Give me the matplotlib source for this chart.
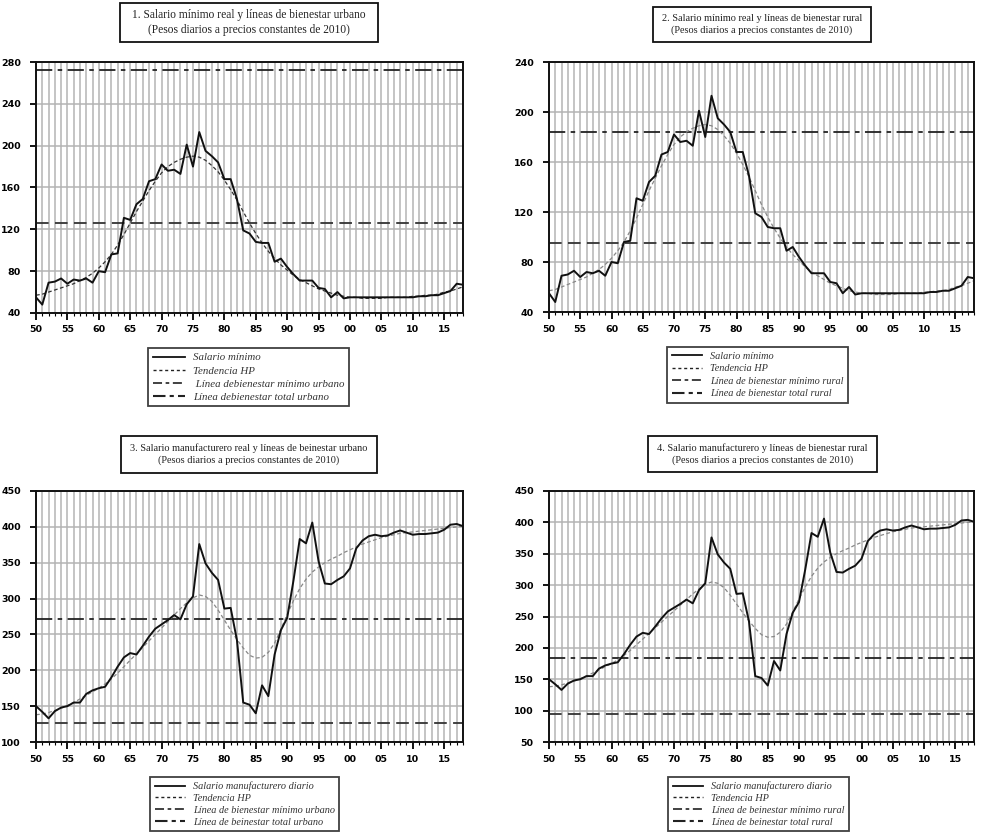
import matplotlib
matplotlib.use("Agg")
import matplotlib.pyplot as plt
from matplotlib.lines import Line2D
from matplotlib.patches import Rectangle
from matplotlib.ticker import MultipleLocator, FixedLocator

# ---------------- data ----------------
years = list(range(1950, 2019))

salario_minimo = [55, 48, 69, 70, 73, 68, 72, 71, 73, 69,
                  80, 79, 96, 97, 131, 129, 144, 149, 166, 168,
                  182, 176, 177, 173, 201, 180, 213, 195, 190, 184,
                  168, 168, 149, 119, 116, 108, 107, 107, 89, 92,
                  84, 77, 71, 71, 71, 64, 63, 55, 60, 54,
                  55, 55, 55, 55, 55, 55, 55, 55, 55, 55,
                  55, 56, 56, 57, 57, 59, 61, 68, 67]

tendencia_minimo = [57, 58, 60, 62, 64, 66, 68, 71, 74, 78,
                    83, 89, 96, 105, 115, 126, 137, 147, 157, 166,
                    174, 180, 184, 187, 189, 190, 189, 186, 181, 175,
                    167, 158, 148, 137, 126, 116, 107, 99, 92, 86,
                    81, 76, 72, 69, 66, 63, 61, 59, 57, 56,
                    55, 55, 54, 54, 54, 54, 55, 55, 55, 55,
                    56, 56, 57, 57, 58, 60, 61, 63, 65]

salario_manuf = [150, 142, 133, 143, 148, 150, 155, 155, 167, 172,
                 175, 177, 190, 205, 218, 224, 222, 234, 247, 258,
                 264, 270, 277, 271, 292, 303, 376, 349, 336, 326,
                 286, 287, 242, 155, 152, 140, 179, 164, 222, 256,
                 273, 325, 383, 377, 406, 352, 321, 320, 326, 331,
                 342, 370, 381, 387, 389, 387, 388, 392, 395, 392,
                 389, 390, 390, 391, 392, 396, 403, 404, 401]

tendencia_manuf = [138, 139, 141, 144, 147, 151, 155, 160, 165, 170,
                   175, 181, 188, 196, 205, 214, 223, 232, 241, 250,
                   259, 268, 277, 286, 294, 301, 305, 303, 296, 284,
                   270, 256, 243, 231, 221, 217, 218, 225, 238, 257,
                   278, 297, 314, 327, 337, 344, 350, 355, 359, 364,
                   368, 372, 376, 379, 382, 385, 387, 389, 391, 392,
                   393, 394, 395, 396, 397, 398, 399, 400, 401]

linea_minimo_urbano = 126
linea_total_urbano = 272
linea_minimo_rural = 95
linea_total_rural = 184

x_ticks = [1950, 1955, 1960, 1965, 1970, 1975, 1980, 1985, 1990, 1995,
           2000, 2005, 2010, 2015]
x_labels = ["50", "55", "60", "65", "70", "75", "80", "85", "90", "95",
            "00", "05", "10", "15"]

titles = [
    "1. Salario mínimo real y líneas de bienestar urbano\n(Pesos diarios a precios constantes de 2010)",
    "2. Salario mínimo real y líneas de bienestar rural\n(Pesos diarios a precios constantes de 2010)",
    "3. Salario manufacturero real y líneas de beinestar urbano\n(Pesos diarios a precios constantes de 2010)",
    "4. Salario manufacturero y líneas de bienestar rural\n(Pesos diarios a precios constantes de 2010)",
]
legend_labels = [
    ["Salario mínimo", "Tendencia HP", " Línea debienestar mínimo urbano", "Línea debienestar total urbano"],
    ["Salario mínimo", "Tendencia HP", "Línea de bienestar mínimo rural", "Línea de bienestar total rural"],
    ["Salario manufacturero diario", "Tendencia HP", "Línea de bienestar mínimo urbano", "Línea de beinestar total urbano"],
    ["Salario manufacturero diario", "Tendencia HP", "Línea de beinestar mínimo rural", "Línea de beinestar total rural"],
]

# ---------------- layout ----------------
W, H = 982, 834
fig = plt.figure(figsize=(W / 100, H / 100), dpi=100)
fig.patch.set_facecolor("white")

def fr(x0, y0, x1, y1):
    return [x0 / W, 1 - y1 / H, (x1 - x0) / W, (y1 - y0) / H]

panels = [
    dict(rect=fr(36, 62, 463, 313), series=salario_minimo, trend=tendencia_minimo,
         ylim=(40, 280), ystep=40, mn=linea_minimo_urbano, tot=linea_total_urbano,
         trend_color="#333333",
         title_box=(120, 3, 378, 42), title_fs=8.3,
         leg_anchor=(148, 348), leg_fs=7.8, leg_sp=0.32),
    dict(rect=fr(549, 62, 974, 312), series=salario_minimo, trend=tendencia_minimo,
         ylim=(40, 240), ystep=40, mn=linea_minimo_rural, tot=linea_total_rural,
         trend_color="#888888",
         title_box=(653, 7, 871, 42), title_fs=7.4,
         leg_anchor=(667, 347), leg_fs=7.4, leg_sp=0.32),
    dict(rect=fr(36, 491, 463, 742), series=salario_manuf, trend=tendencia_manuf,
         ylim=(100, 450), ystep=50, mn=linea_minimo_urbano, tot=linea_total_urbano,
         trend_color="#888888",
         title_box=(121, 436, 377, 473), title_fs=7.4,
         leg_anchor=(150, 777), leg_fs=7.4, leg_sp=0.25),
    dict(rect=fr(549, 491, 974, 742), series=salario_manuf, trend=tendencia_manuf,
         ylim=(50, 450), ystep=50, mn=linea_minimo_rural, tot=linea_total_rural,
         trend_color="#888888",
         title_box=(648, 436, 877, 472), title_fs=7.4,
         leg_anchor=(668, 777), leg_fs=7.4, leg_sp=0.25),
]

mn_dash = (0, (7, 3.5))
tot_dash = (0, (9, 3, 2.5, 3))
trend_dash = (0, (3, 2))

for i, p in enumerate(panels):
    ax = fig.add_axes(p["rect"])
    ax.set_xlim(1950, 2018)
    ax.set_ylim(*p["ylim"])
    ax.xaxis.set_major_locator(FixedLocator(x_ticks))
    ax.xaxis.set_minor_locator(MultipleLocator(1))
    ax.set_xticklabels(x_labels)
    ax.yaxis.set_major_locator(MultipleLocator(p["ystep"]))
    ax.grid(which="both", axis="x", color="#b4b4b4", lw=1.1)
    ax.grid(which="major", axis="y", color="#b4b4b4", lw=1.1)
    ax.set_axisbelow(True)

    ax.axhline(p["tot"], color="#222222", lw=1.3, ls=tot_dash)
    ax.axhline(p["mn"], color="#333333", lw=1.3, ls=mn_dash)
    ax.plot(years, p["trend"], color=p["trend_color"], lw=0.9, ls=trend_dash)
    ax.plot(years, p["series"], color="#111111", lw=1.4)

    for s in ax.spines.values():
        s.set_linewidth(1.4)
        s.set_color("#111111")
    ax.tick_params(axis="x", which="major", direction="out", length=5, width=1.3,
                   pad=4, labelsize=6.8)
    ax.tick_params(axis="x", which="minor", direction="out", length=2.5, width=0.8)
    ax.tick_params(axis="y", which="major", direction="out", length=4, width=1.3,
                   pad=7, labelsize=6.8)
    for lab in ax.get_xticklabels() + ax.get_yticklabels():
        lab.set_fontweight("bold")
        lab.set_family("DejaVu Sans")

    # title box
    x0, y0, x1, y1 = p["title_box"]
    fig.patches.append(Rectangle((x0 / W, 1 - y1 / H), (x1 - x0) / W, (y1 - y0) / H,
                                 transform=fig.transFigure, fill=False,
                                 ec="#111111", lw=1.3))
    fig.text((x0 + x1) / 2 / W, 1 - (y0 + y1) / 2 / H, titles[i],
             ha="center", va="center", fontsize=p["title_fs"],
             family="Liberation Serif", linespacing=1.3, color="#222222")

    # legend
    handles = [
        Line2D([], [], color="#111111", lw=1.3),
        Line2D([], [], color="#222222", lw=1.0, ls=(0, (2.2, 2))),
        Line2D([], [], color="#333333", lw=1.3, ls=(0, (5, 2, 2, 2))),
        Line2D([], [], color="#222222", lw=1.5, ls=(0, (6, 2, 2, 2))),
    ]
    lx, ly = p["leg_anchor"]
    leg = fig.legend(handles, legend_labels[i], loc="upper left",
                     bbox_to_anchor=(lx / W, 1 - ly / H),
                     bbox_transform=fig.transFigure,
                     prop=dict(family="Liberation Serif", style="italic", size=p["leg_fs"]),
                     frameon=True, fancybox=False, shadow=False,
                     handlelength=3.0, handletextpad=0.7, borderpad=0.45,
                     labelspacing=p["leg_sp"], borderaxespad=0)
    leg.get_frame().set_edgecolor("#111111")
    leg.get_frame().set_linewidth(1.3)
    for t in leg.get_texts():
        t.set_color("#333333")

fig.savefig("out.png", dpi=100, facecolor="white")
